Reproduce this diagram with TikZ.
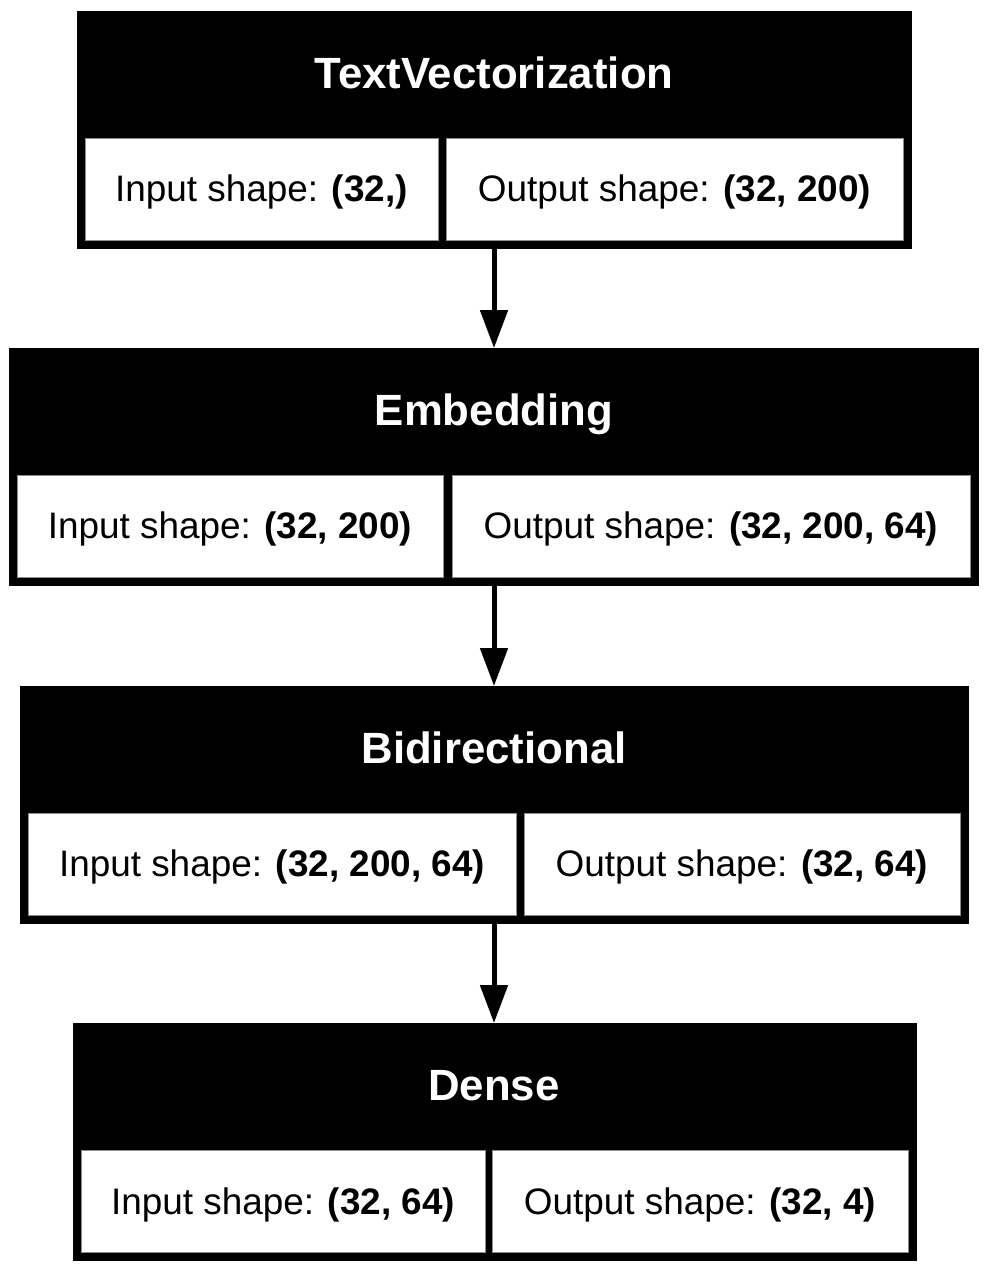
\documentclass[tikz,border=0pt]{standalone}
\usepackage{fontspec}
\setmainfont{Liberation Sans}
\usetikzlibrary{arrows.meta}

\begin{document}
\begin{tikzpicture}
[
	x=0.02cm, y=-0.02cm,
	layer/.style={rectangle,fill=black,draw=black,inner sep=0pt,outer sep=0pt,minimum height=4.74cm},
	title/.style={text=white,anchor=base,font=\bfseries\fontsize{24.9}{30}\selectfont},
	cell/.style={rectangle,fill=white,draw=black!45,line width=0.3pt,inner sep=0pt,outer sep=0pt,minimum height=2.04cm,text height=0.6cm,text depth=0.092cm,font=\fontsize{21}{25}\selectfont},
	flow/.style={line width=0.1cm,-{Triangle[length=0.76cm,width=0.54cm]}},
]
	\useasboundingbox (0,0) rectangle (988,1272);

	% TextVectorization
	\begin{scope}[shift={(494,11)}]
		\node[layer,minimum width=16.68cm] (tv) at (0,118.5){};
		\node[title] (tvt) at (0,77){TextVectorization};
		\node[cell,minimum width=7.06cm] (tvin) at (-232.5,178){Input shape: \textbf{(32,)}};
		\node[cell,minimum width=9.14cm] (tvout) at (180.5,178){Output shape: \textbf{(32, 200)}};
	\end{scope}

	% Embedding
	\begin{scope}[shift={(494,348)}]
		\node[layer,minimum width=19.38cm] (emb) at (-0.5,118.5){};
		\node[title] (embt) at (0,77){Embedding};
		\node[cell,minimum width=8.52cm] (embin) at (-264,178){Input shape: \textbf{(32, 200)}};
		\node[cell,minimum width=10.36cm] (embout) at (217,178){Output shape: \textbf{(32, 200, 64)}};
	\end{scope}

	% Bidirectional
	\begin{scope}[shift={(494,686)}]
		\node[layer,minimum width=18.96cm] (bi) at (0,118.5){};
		\node[title] (bit) at (0,77){Bidirectional};
		\node[cell,minimum width=9.76cm] (biin) at (-222,178){Input shape: \textbf{(32, 200, 64)}};
		\node[cell,minimum width=8.72cm] (biout) at (248,178){Output shape: \textbf{(32, 64)}};
	\end{scope}

	% Dense
	\begin{scope}[shift={(494,1023)}]
		\node[layer,minimum width=16.86cm] (dense) at (0.5,118.5){};
		\node[title] (denset) at (0,77){Dense};
		\node[cell,minimum width=8.08cm] (densein) at (-211,178.5){Input shape: \textbf{(32, 64)}};
		\node[cell,minimum width=8.32cm] (denseout) at (206,178.5){Output shape: \textbf{(32, 4)}};
	\end{scope}

	\draw[flow] (tv.south) -- (emb.north -| tv.south);
	\draw[flow] (emb.south -| tv.south) -- (bi.north);
	\draw[flow] (bi.south) -- (dense.north -| bi.south);
\end{tikzpicture}
\end{document}
